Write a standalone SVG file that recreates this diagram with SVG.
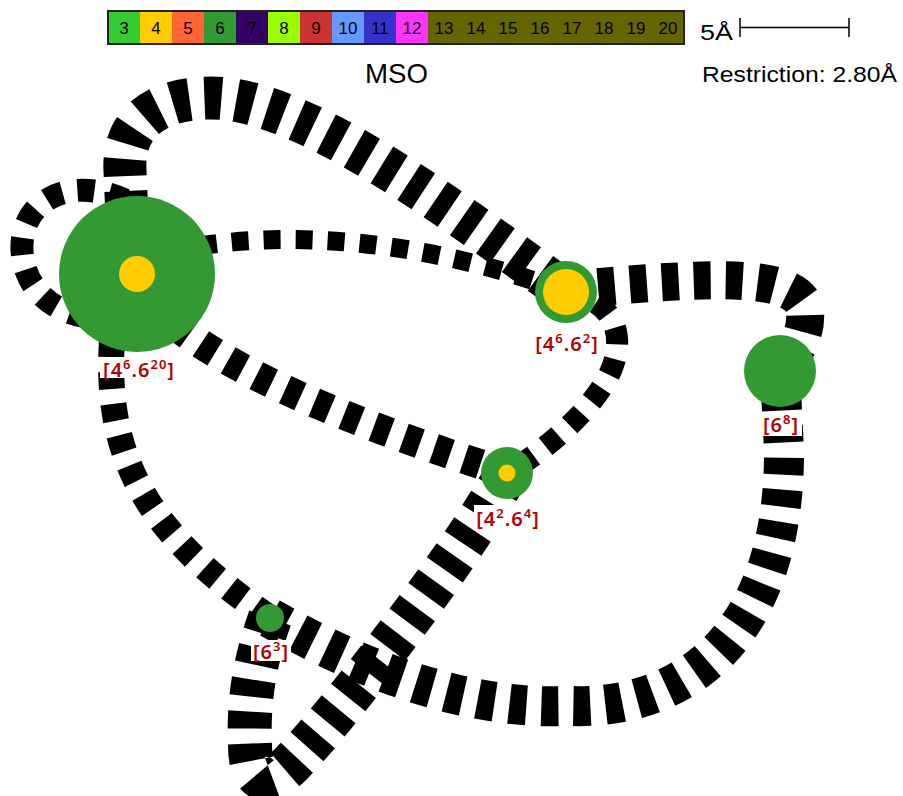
<svg xmlns="http://www.w3.org/2000/svg" width="903" height="796" viewBox="0 0 903 796">
<style>
.e{fill:none;stroke:#000;stroke-dasharray:17 15;stroke-linecap:butt}
.g{fill:#339933}
.y{fill:#ffcc00}
.lb{fill:#fff}
.lt{font-family:"Noto Sans","DejaVu Sans",sans-serif;font-weight:600;font-size:20px;fill:#b30000;text-anchor:middle;letter-spacing:1px}
.sp{font-size:13px}
.lg{font-family:"Liberation Sans",Arial,sans-serif;font-size:17px;text-anchor:middle;fill:#000}
.tt{font-family:"Liberation Sans",Arial,sans-serif;fill:#000}
</style>
<rect width="903" height="796" fill="#fff"/>
<g id="legend">
<rect x="108" y="11" width="32" height="33" fill="#33cc33"/>
<rect x="140" y="11" width="32" height="33" fill="#ffcc00"/>
<rect x="172" y="11" width="32" height="33" fill="#ff6633"/>
<rect x="204" y="11" width="32" height="33" fill="#339933"/>
<rect x="236" y="11" width="32" height="33" fill="#330066"/>
<rect x="268" y="11" width="32" height="33" fill="#99ff00"/>
<rect x="300" y="11" width="32" height="33" fill="#cc3333"/>
<rect x="332" y="11" width="32" height="33" fill="#6699ff"/>
<rect x="364" y="11" width="32" height="33" fill="#3333cc"/>
<rect x="396" y="11" width="32" height="33" fill="#ff33ff"/>
<rect x="428" y="11" width="256" height="33" fill="#666600"/>
<rect x="108" y="11" width="576" height="33" fill="none" stroke="#222" stroke-width="2"/>
<text class="lg" x="124" y="34">3</text>
<text class="lg" x="156" y="34">4</text>
<text class="lg" x="188" y="34">5</text>
<text class="lg" x="220" y="34">6</text>
<text class="lg" x="252" y="34">7</text>
<text class="lg" x="284" y="34">8</text>
<text class="lg" x="316" y="34">9</text>
<text class="lg" x="348" y="34">10</text>
<text class="lg" x="380" y="34">11</text>
<text class="lg" x="412" y="34">12</text>
<text class="lg" x="444" y="34">13</text>
<text class="lg" x="476" y="34">14</text>
<text class="lg" x="508" y="34">15</text>
<text class="lg" x="540" y="34">16</text>
<text class="lg" x="572" y="34">17</text>
<text class="lg" x="604" y="34">18</text>
<text class="lg" x="636" y="34">19</text>
<text class="lg" x="668" y="34">20</text>
</g>
<g id="titles">
<text class="tt" x="365" y="83" font-size="28" textLength="63" lengthAdjust="spacingAndGlyphs">MSO</text>
<text class="tt" x="700" y="40" font-size="22" textLength="33" lengthAdjust="spacingAndGlyphs">5Å</text>
<path d="M740 18V37M740 27.5H849M849 18V37" stroke="#000" stroke-width="1.5" fill="none"/>
<text class="tt" x="702" y="82" font-size="22" textLength="195" lengthAdjust="spacingAndGlyphs">Restriction: 2.80Å</text>
</g>
<g id="connectors">
<path class="e" stroke-width="43" d="M128 240 L125 171 C122 120 160 98 211 98 C300 98 440 200 566 292"/>
<path class="e" stroke-width="23" d="M125 200 C70 175 20 200 22 250 C24 290 55 315 95 318"/>
<path class="e" stroke-width="19" d="M200 246 C290 232 420 238 566 292"/>
<path class="e" stroke-width="38" d="M566 290 C700 278 785 272 803 303 C810 322 800 350 780 371"/>
<path class="e" stroke-width="22" d="M566 292 C615 300 625 335 612 368 C600 400 555 445 507 473"/>
<path class="e" stroke-width="30" d="M175 325 C250 385 390 435 507 473"/>
<path class="e" stroke-width="26" d="M112 340 C105 450 140 530 270 618"/>
<path class="e" stroke-width="40" d="M270 618 C380 680 480 710 570 706 C690 710 785 630 784 450 L780 371"/>
<path class="e" stroke-width="44" d="M270 618 C255 660 248 700 250 745 C250 780 265 790 290 765 C330 725 460 560 507 473"/>
</g>
<g id="n1"><circle class="g" cx="137" cy="274" r="78"/><circle class="y" cx="137" cy="274" r="18"/></g>
<g id="n2"><circle class="g" cx="566" cy="292" r="31"/><circle class="y" cx="566" cy="292" r="23"/></g>
<g id="n3"><circle class="g" cx="780" cy="371" r="36"/></g>
<g id="n4"><circle class="g" cx="507" cy="473" r="26"/><circle class="y" cx="507" cy="473" r="8.5"/></g>
<g id="n5"><circle class="g" cx="270" cy="618" r="14"/></g>
<g id="labels">
<rect class="lb" x="100" y="357" width="78" height="21"/>
<text class="lt" x="139" y="377">[4<tspan class="sp" dy="-8">6</tspan><tspan dy="8">.6</tspan><tspan class="sp" dy="-8">20</tspan><tspan dy="8">]</tspan></text>
<rect class="lb" x="534" y="331" width="66" height="23"/>
<text class="lt" x="567" y="351">[4<tspan class="sp" dy="-8">6</tspan><tspan dy="8">.6</tspan><tspan class="sp" dy="-8">2</tspan><tspan dy="8">]</tspan></text>
<rect class="lb" x="760" y="414" width="42" height="22"/>
<text class="lt" x="781" y="432">[6<tspan class="sp" dy="-8">8</tspan><tspan dy="8">]</tspan></text>
<rect class="lb" x="474" y="505" width="67" height="24"/>
<text class="lt" x="508" y="526">[4<tspan class="sp" dy="-8">2</tspan><tspan dy="8">.6</tspan><tspan class="sp" dy="-8">4</tspan><tspan dy="8">]</tspan></text>
<rect class="lb" x="251" y="640" width="40" height="21"/>
<text class="lt" x="271" y="659">[6<tspan class="sp" dy="-8">3</tspan><tspan dy="8">]</tspan></text>
</g>
</svg>
